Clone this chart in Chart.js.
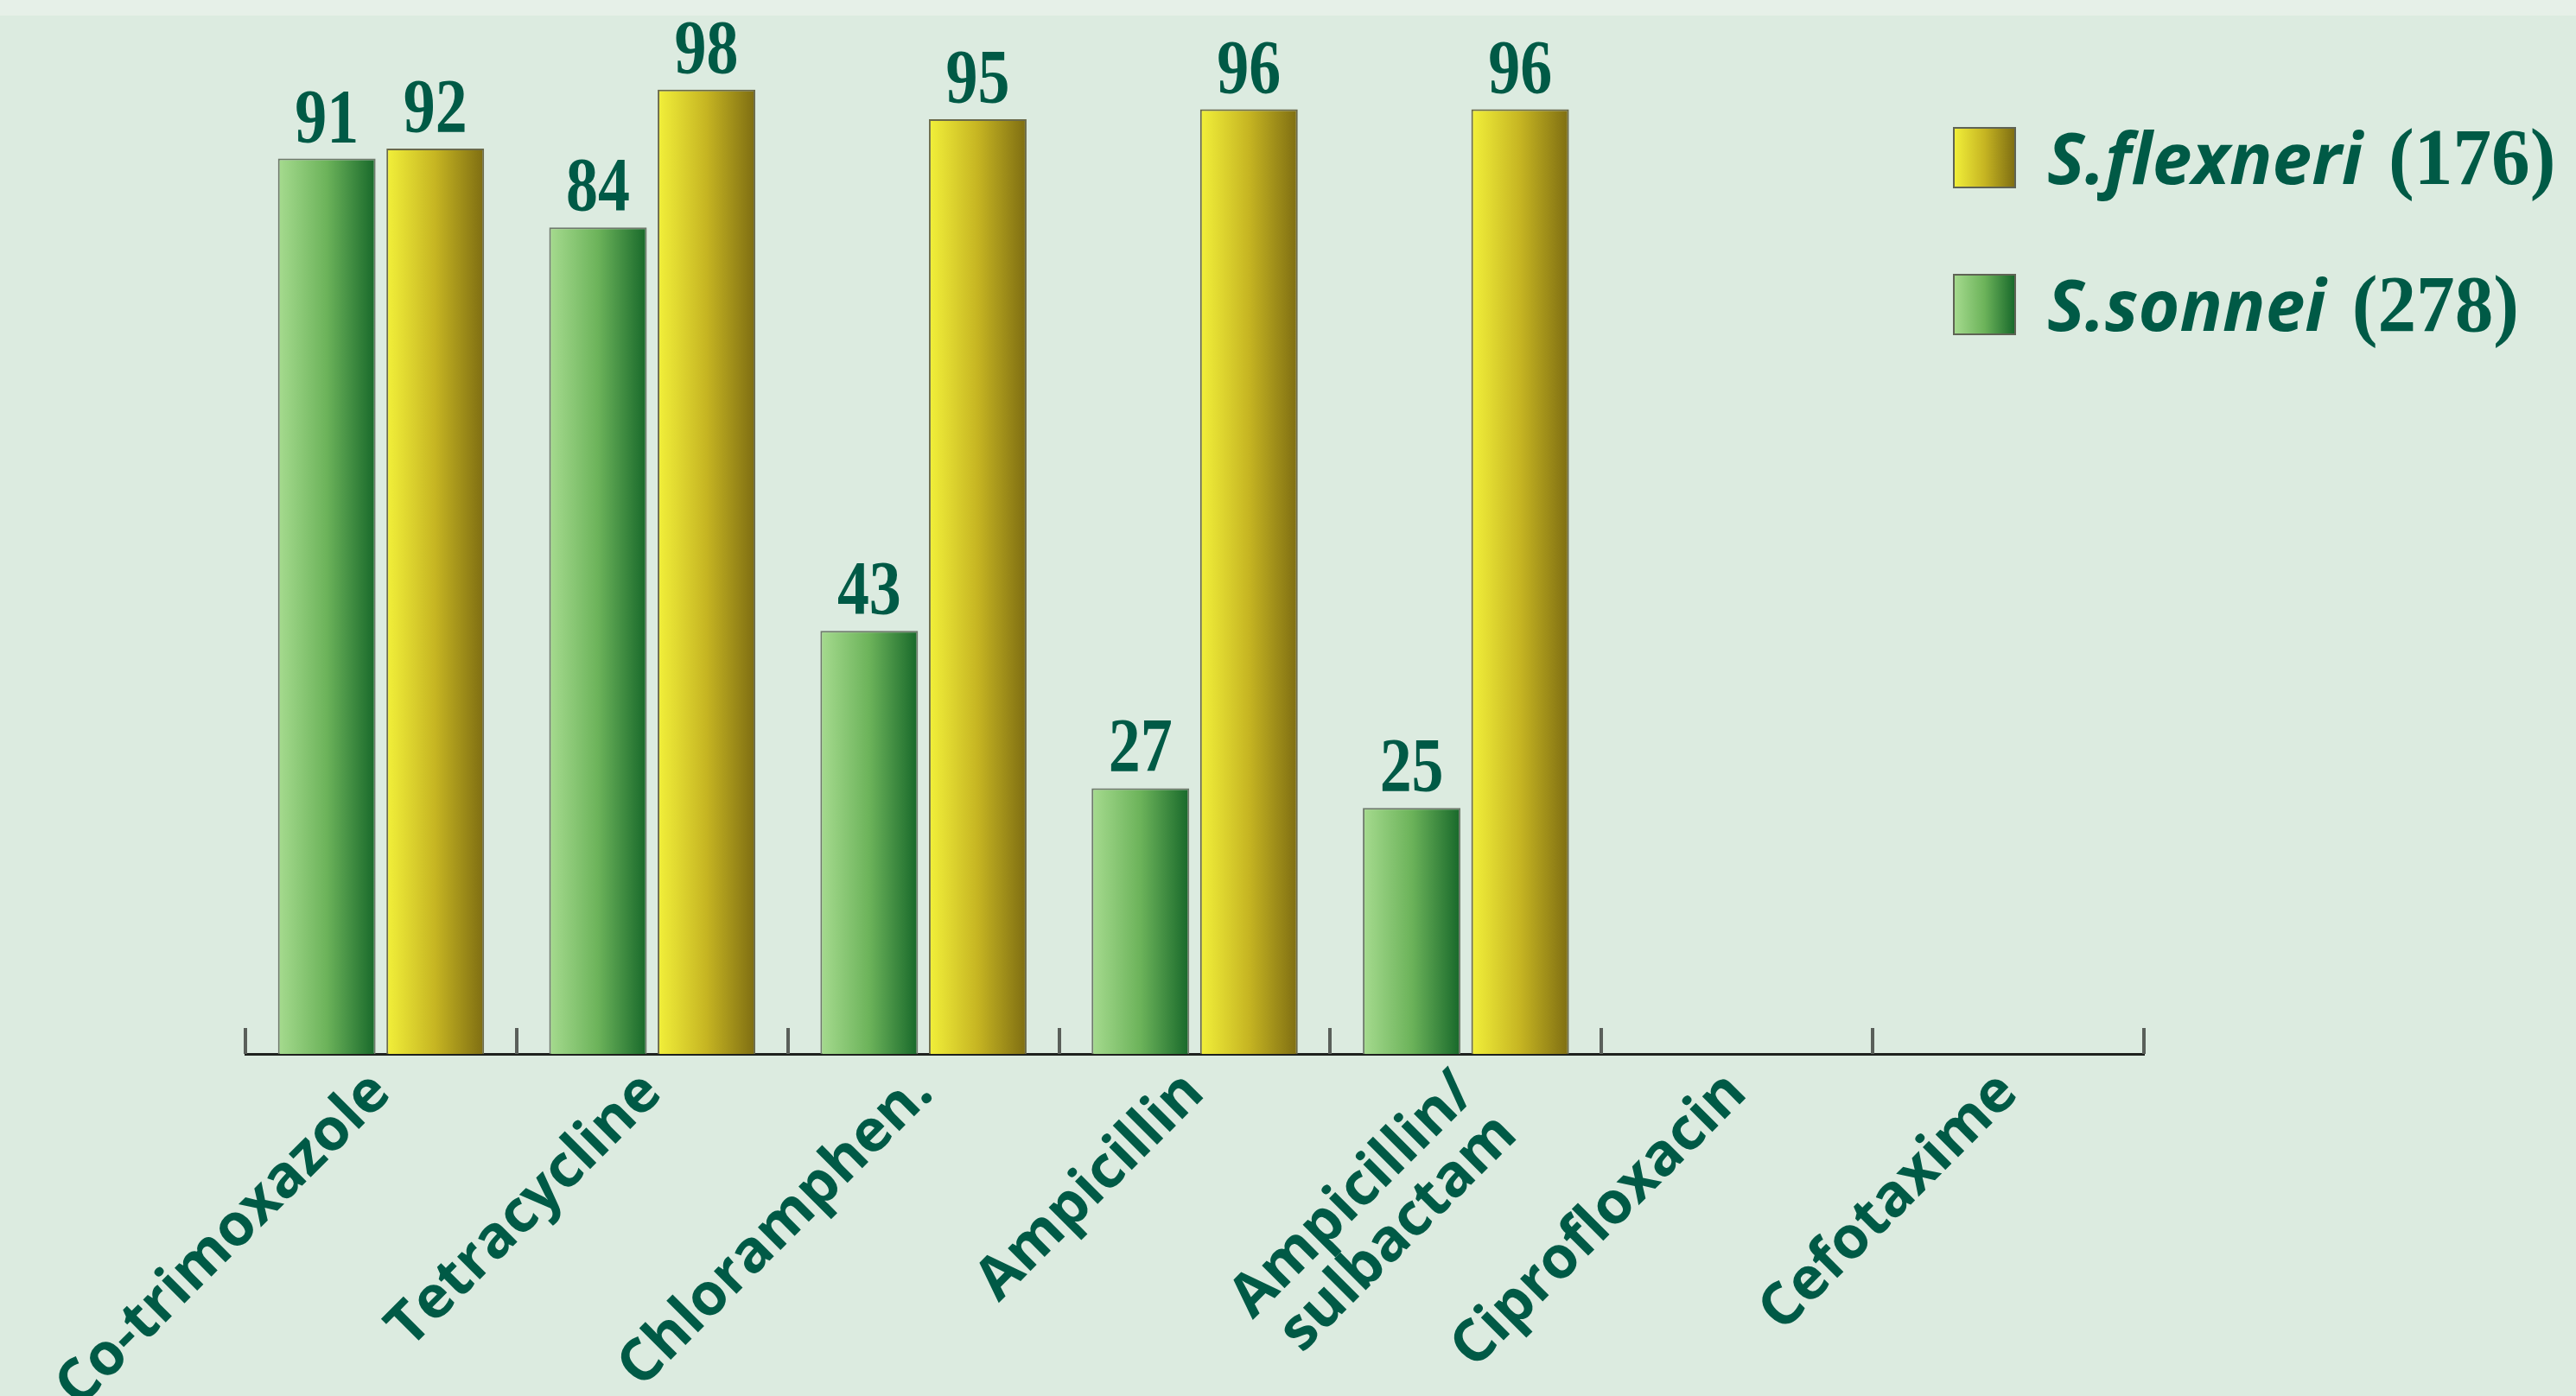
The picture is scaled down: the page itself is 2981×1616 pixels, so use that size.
<!DOCTYPE html>
<html>
<head>
<meta charset="utf-8">
<script src="https://cdn.jsdelivr.net/npm/chart.js@4.4.0/dist/chart.umd.min.js"></script>
<style>
  html, body { margin: 0; padding: 0; }
  body {
    width: 2981px; height: 1616px; overflow: hidden;
    background: linear-gradient(#e6f0e8 0, #e6f0e8 18px, #dcebe0 18px);
  }
  #wrap { width: 2981px; height: 1616px; position: relative; }
</style>
</head>
<body>
<div id="wrap"><canvas id="chart"></canvas></div>
<script>
// --- data ---
const antibiotics = ['Co-trimoxazole', 'Tetracycline', 'Chloramphen.', 'Ampicillin', ['Ampicillin/', 'sulbactam'], 'Ciprofloxacin', 'Cefotaxime'];
const sonneiValues = [91, 84, 43, 27, 25, null, null];
const flexneriValues = [92, 98, 95, 96, 96, null, null];
const speciesNames = ['S.sonnei', 'S.flexneri'];
const isolateCounts = [278, 176];

// --- styles ---
const TEXT_COLOR = '#005a46';
const greenStops = ['#a6db8f', '#6cb35a', '#17682a'];
const yellowStops = ['#f2f03a', '#c6b522', '#7e6d12'];
const CAT_PCT = 0.8;
const BAR_PCT = 0.9;

const fillStops = (g, stops) => {
    stops.forEach((c, i) => g.addColorStop(i / (stops.length - 1), c));
    return g;
};

// gradient left->right across each bar, computed from the x scale
const barGradient = (stops) => (ctx) => {
    const chart = ctx.chart;
    const x = chart.scales.x;
    if (!chart.chartArea || !x || ctx.type !== 'data') return stops[1];
    const slot = (x.right - x.left) / antibiotics.length * CAT_PCT / 2;
    const center = x.getPixelForValue(ctx.dataIndex) + (ctx.datasetIndex - 0.5) * slot;
    const half = slot * BAR_PCT / 2;
    return fillStops(chart.ctx.createLinearGradient(center - half, 0, center + half, 0), stops);
};

// small upward ticks between the categories
const axisTicks = {
    id: 'axisTicks',
    afterDatasetsDraw(chart) {
        const x = chart.scales.x;
        const ctx = chart.ctx;
        ctx.save();
        ctx.strokeStyle = '#5a5f5a';
        ctx.lineWidth = 4;
        for (let i = 0; i <= antibiotics.length; i++) {
            const px = Math.round(x.getPixelForValue(i - 0.5));
            ctx.beginPath();
            ctx.moveTo(px, x.top);
            ctx.lineTo(px, x.top - 30);
            ctx.stroke();
        }
        ctx.restore();
    }
};

// numbers above the bars
const valueLabels = {
    id: 'valueLabels',
    afterDatasetsDraw(chart) {
        const ctx = chart.ctx;
        ctx.save();
        ctx.fillStyle = TEXT_COLOR;
        ctx.font = 'bold 88px "Liberation Serif"';
        ctx.textAlign = 'center';
        ctx.textBaseline = 'alphabetic';
        chart.data.datasets.forEach((ds, di) => {
            chart.getDatasetMeta(di).data.forEach((bar, i) => {
                const v = ds.data[i];
                if (v == null) return;
                ctx.save();
                ctx.translate(bar.x, bar.y - 20);
                ctx.scale(0.84, 1);
                ctx.fillText(String(v), 0, 0);
                ctx.restore();
            });
        });
        ctx.restore();
    }
};

// legend: italic species name + upright count
const sideLegend = {
    id: 'sideLegend',
    afterDraw(chart) {
        const ctx = chart.ctx;
        const left = 2261, top = 148, rowGap = 170, box = 71;
        const allStops = [greenStops, yellowStops];
        [1, 0].forEach((di, row) => {
            const y = top + row * rowGap;
            ctx.save();
            ctx.fillStyle = fillStops(ctx.createLinearGradient(left, 0, left + box, 0), allStops[di]);
            ctx.fillRect(left, y, box, box - 2);
            ctx.strokeStyle = '#5f6355';
            ctx.lineWidth = 2;
            ctx.strokeRect(left, y, box, box - 2);

            ctx.fillStyle = TEXT_COLOR;
            ctx.textBaseline = 'alphabetic';
            ctx.textAlign = 'left';
            ctx.font = 'italic bold 82px "Open Sans"';
            const tx = left + 108;
            ctx.fillText(speciesNames[di], tx, y + 65);
            const w = ctx.measureText(speciesNames[di]).width;
            ctx.font = 'bold 94px "Liberation Serif"';
            ctx.translate(tx + w + 30, y + 65);
            ctx.scale(0.95, 1);
            ctx.fillText('(' + isolateCounts[di] + ')', 0, 0);
            ctx.restore();
        });
    }
};

new Chart(document.getElementById('chart'), {
    type: 'bar',
    data: {
        labels: antibiotics,
        datasets: [
            {
                label: speciesNames[0] + ' (' + isolateCounts[0] + ')',
                data: sonneiValues,
                backgroundColor: barGradient(greenStops),
                borderColor: '#6f7a6c',
                borderWidth: 2,
                categoryPercentage: CAT_PCT,
                barPercentage: BAR_PCT
            },
            {
                label: speciesNames[1] + ' (' + isolateCounts[1] + ')',
                data: flexneriValues,
                backgroundColor: barGradient(yellowStops),
                borderColor: '#6b6a4a',
                borderWidth: 2,
                categoryPercentage: CAT_PCT,
                barPercentage: BAR_PCT
            }
        ]
    },
    options: {
        responsive: true,
        maintainAspectRatio: false,
        animation: false,
        layout: { padding: { top: 81, left: 284, right: 500, bottom: 0 } },
        plugins: {
            legend: { display: false },
            tooltip: { enabled: false }
        },
        scales: {
            y: { display: false, min: 0, max: 100 },
            x: {
                grid: { display: false },
                border: { display: true, color: '#1e211e', width: 3 },
                ticks: {
                    autoSkip: false,
                    minRotation: 45,
                    maxRotation: 45,
                    padding: 2,
                    color: TEXT_COLOR,
                    font: { family: 'Open Sans', weight: 'bold', size: 68, lineHeight: 1.0 }
                },
                afterFit: (scale) => {
                    scale.height = 396;
                    scale.paddingLeft = 0;
                    scale.paddingRight = 0;
                }
            }
        }
    },
    plugins: [axisTicks, valueLabels, sideLegend]
});
</script>
</body>
</html>
